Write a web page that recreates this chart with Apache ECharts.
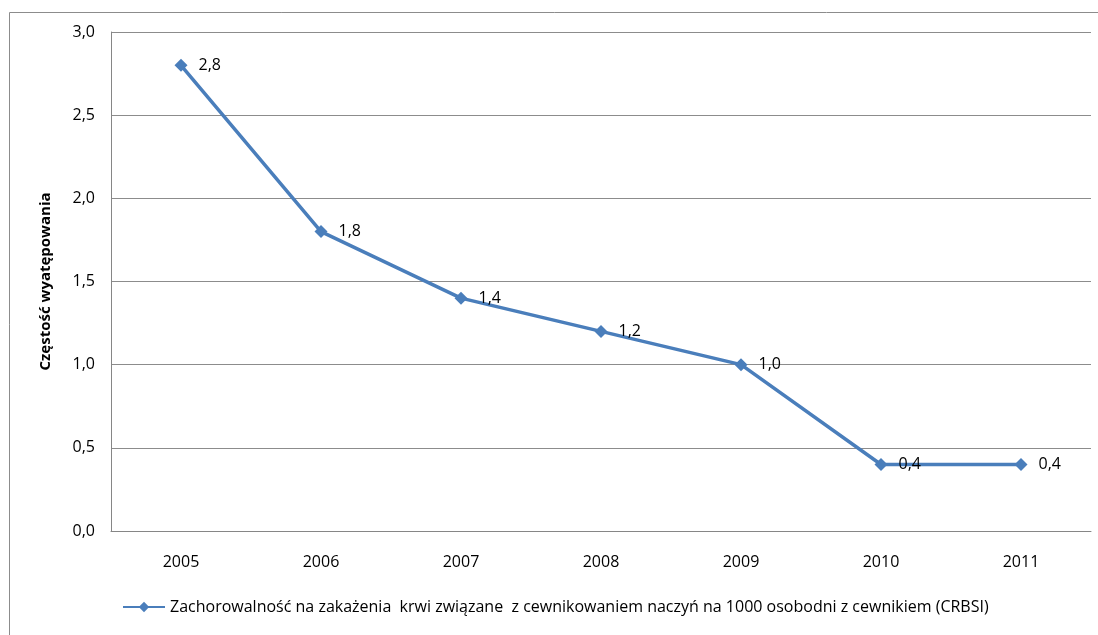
<!DOCTYPE html>
<html>
<head>
<meta charset="utf-8">
<script src="https://cdn.jsdelivr.net/npm/echarts@6/dist/echarts.min.js"></script>
<style>
  html, body { margin: 0; padding: 0; background: #fff; }
  #chart { width: 1098px; height: 635px; }
</style>
</head>
<body>
<div id="chart"></div>
<script>
const years = ['2005', '2006', '2007', '2008', '2009', '2010', '2011'];
const crbsi = [2.8, 1.8, 1.4, 1.2, 1.0, 0.4, 0.4];
const seriesName = 'Zachorowalność na zakażenia  krwi związane  z cewnikowaniem naczyń na 1000 osobodni z cewnikiem (CRBSI)';
const yTitle = 'Częstość wyatępowania';

const fmt = (v) => v.toFixed(1).replace('.', ',');
const font = 'Open Sans, Noto Sans, sans-serif';

const chart = echarts.init(document.getElementById('chart'));

chart.setOption({
  backgroundColor: '#fff',
  animation: false,
  graphic: [
    {
      type: 'rect',
      shape: { x: 9.5, y: 12.5, width: 1200, height: 700 },
      style: { fill: 'none', stroke: '#8c8c8c', lineWidth: 1 },
      silent: true,
    },
  ],
  grid: { left: 111, right: 7, top: 32, bottom: 104 },
  legend: {
    bottom: 15,
    left: 117,
    itemWidth: 42,
    itemHeight: 13,
    itemGap: 4,
    textStyle: { fontFamily: font, fontSize: 16, color: '#000' },
    data: [seriesName],
  },
  xAxis: {
    type: 'category',
    data: years,
    axisLine: { lineStyle: { color: '#868686' } },
    axisTick: { show: false },
    axisLabel: { fontFamily: font, fontSize: 16, color: '#000', margin: 23 },
  },
  yAxis: {
    type: 'value',
    min: 0,
    max: 3,
    interval: 0.5,
    name: yTitle,
    nameLocation: 'middle',
    nameGap: 58,
    nameTextStyle: { fontFamily: font, fontSize: 15, fontWeight: 'bold', color: '#000' },
    axisLine: { show: true, lineStyle: { color: '#868686' } },
    axisTick: { show: false },
    splitLine: { lineStyle: { color: '#8c8c8c' } },
    axisLabel: { fontFamily: font, fontSize: 16, color: '#000', margin: 16, formatter: fmt },
  },
  series: [
    {
      name: seriesName,
      type: 'line',
      data: crbsi,
      symbol: 'diamond',
      symbolSize: 13,
      lineStyle: { color: '#4a7ebb', width: 3.5 },
      itemStyle: { color: '#4a7ebb' },
      label: {
        show: true,
        position: 'right',
        distance: 11,
        fontFamily: font,
        fontSize: 16,
        color: '#000',
        formatter: (p) => fmt(p.value),
      },
    },
  ],
});
</script>
</body>
</html>
